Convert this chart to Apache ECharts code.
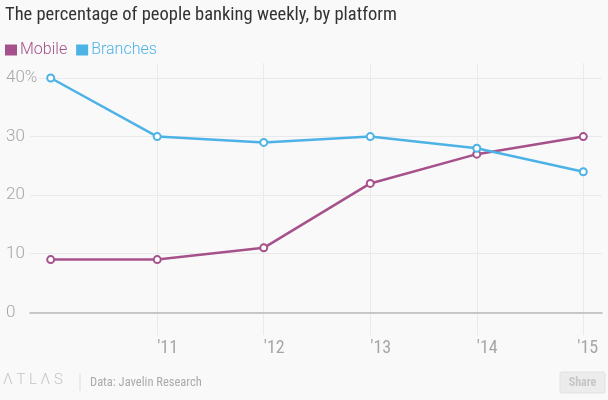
<!DOCTYPE html>
<html>
<head>
<meta charset="utf-8">
<script src="https://cdn.jsdelivr.net/npm/echarts@6/dist/echarts.min.js"></script>
<style>
html,body{margin:0;padding:0;background:#f9f9f9;}
#c{width:608px;height:400px;}
</style>
</head>
<body>
<div id="c"></div>
<script>
const years = [2010, 2011, 2012, 2013, 2014, 2015];
const mobile = [9, 9, 11, 22, 27, 30];
const branches = [40, 30, 29, 30, 28, 24];
const xTickYears = [2011, 2012, 2013, 2014, 2015];
const xLabelAt = [2011, 2012, 2013, 2014, 2014.944];
const yTicks = [0, 10, 20, 30, 40];
const seriesNames = ['Mobile', 'Branches'];

const C_MOBILE = '#a6518b';
const C_BRANCH = '#4db2e6';
const BG = '#f9f9f9';
const NARROW = '"Liberation Sans Narrow", "Roboto Condensed", "DejaVu Sans Condensed", Roboto, sans-serif';

const chart = echarts.init(document.getElementById('c'), null, {renderer: 'canvas'});

function pairs(vals) { return years.map((y, i) => [y, vals[i]]); }

const option = {
  backgroundColor: BG,
  animation: false,
  title: {
    text: 'The percentage of people banking weekly, by platform',
    left: 5, top: 4, padding: [2, 0, 0, 0],
    textStyle: {fontFamily: NARROW, fontSize: 18.5, fontWeight: 'normal', color: '#333'}
  },
  legend: {
    left: 5, top: 42, padding: 0,
    icon: 'rect', itemWidth: 12, itemHeight: 11, itemGap: 9,
    textStyle: {fontFamily: 'Roboto, sans-serif', fontSize: 16, fontWeight: 300, padding: [0, 0, 0, -2]},
    data: [
      {name: seriesNames[0], itemStyle: {color: C_MOBILE, borderWidth: 0}, textStyle: {color: C_MOBILE}},
      {name: seriesNames[1], itemStyle: {color: C_BRANCH, borderWidth: 0}, textStyle: {color: C_BRANCH}}
    ]
  },
  grid: {left: 30, right: 6, top: 63, bottom: 65, containLabel: false},
  xAxis: {
    type: 'value',
    min: 2009.8057, max: 2015.1756,
    axisLine: {onZero: true, lineStyle: {color: '#b9b9b9', width: 1.5}},
    axisTick: {show: false, customValues: xTickYears},
    axisLabel: {
      customValues: xLabelAt,
      align: 'left', margin: 4,
      fontFamily: NARROW, fontSize: 18, color: '#a6a6a6',
      formatter: v => "'" + String(Math.round(v)).slice(2)
    },
    splitLine: {show: true, lineStyle: {color: '#eaeaea', width: 1}}
  },
  yAxis: {
    type: 'value',
    min: -3.875, max: 42.56,
    axisLine: {show: false},
    axisTick: {show: false, customValues: yTicks},
    axisLabel: {
      customValues: yTicks,
      align: 'left', margin: 24,
      fontFamily: 'Roboto, sans-serif', fontSize: 17, fontWeight: 300, color: '#a6a6a6',
      backgroundColor: BG, padding: [0, 2, 0, 0],
      formatter: v => v === 40 ? v + '%' : String(v)
    },
    splitLine: {show: true, lineStyle: {color: '#eaeaea', width: 1}}
  },
  series: [
    {
      name: seriesNames[0], type: 'line', data: pairs(mobile),
      symbol: 'circle', symbolSize: 7,
      lineStyle: {color: C_MOBILE, width: 2.5},
      itemStyle: {color: '#ffffff', borderColor: C_MOBILE, borderWidth: 2},
      z: 3
    },
    {
      name: seriesNames[1], type: 'line', data: pairs(branches),
      symbol: 'circle', symbolSize: 7,
      lineStyle: {color: C_BRANCH, width: 2.5},
      itemStyle: {color: '#ffffff', borderColor: C_BRANCH, borderWidth: 2},
      z: 4
    }
  ],
  graphic: [
    {type: 'text', left: 3, top: 373, style: {text: 'Λ T L Λ S', fontFamily: 'Roboto, sans-serif', fontWeight: 300, fontSize: 15, fill: '#c4c4c4'}},
    {type: 'line', shape: {x1: 80, y1: 373, x2: 80, y2: 391}, style: {stroke: '#dddddd', lineWidth: 1}},
    {type: 'text', left: 90, top: 376, style: {text: 'Data: Javelin Research', fontFamily: NARROW, fontSize: 12.5, fill: '#aaaaaa'}},
    {type: 'rect', shape: {x: 560, y: 372, width: 45, height: 21, r: 2}, style: {fill: '#ececec', stroke: '#e2e2e2', lineWidth: 1}},
    {type: 'text', x: 582.5, y: 382.5, style: {text: 'Share', fontFamily: NARROW, fontWeight: 'bold', fontSize: 12, fill: '#c6c6c6', align: 'center', verticalAlign: 'middle'}}
  ]
};
chart.setOption(option);
</script>
</body>
</html>
